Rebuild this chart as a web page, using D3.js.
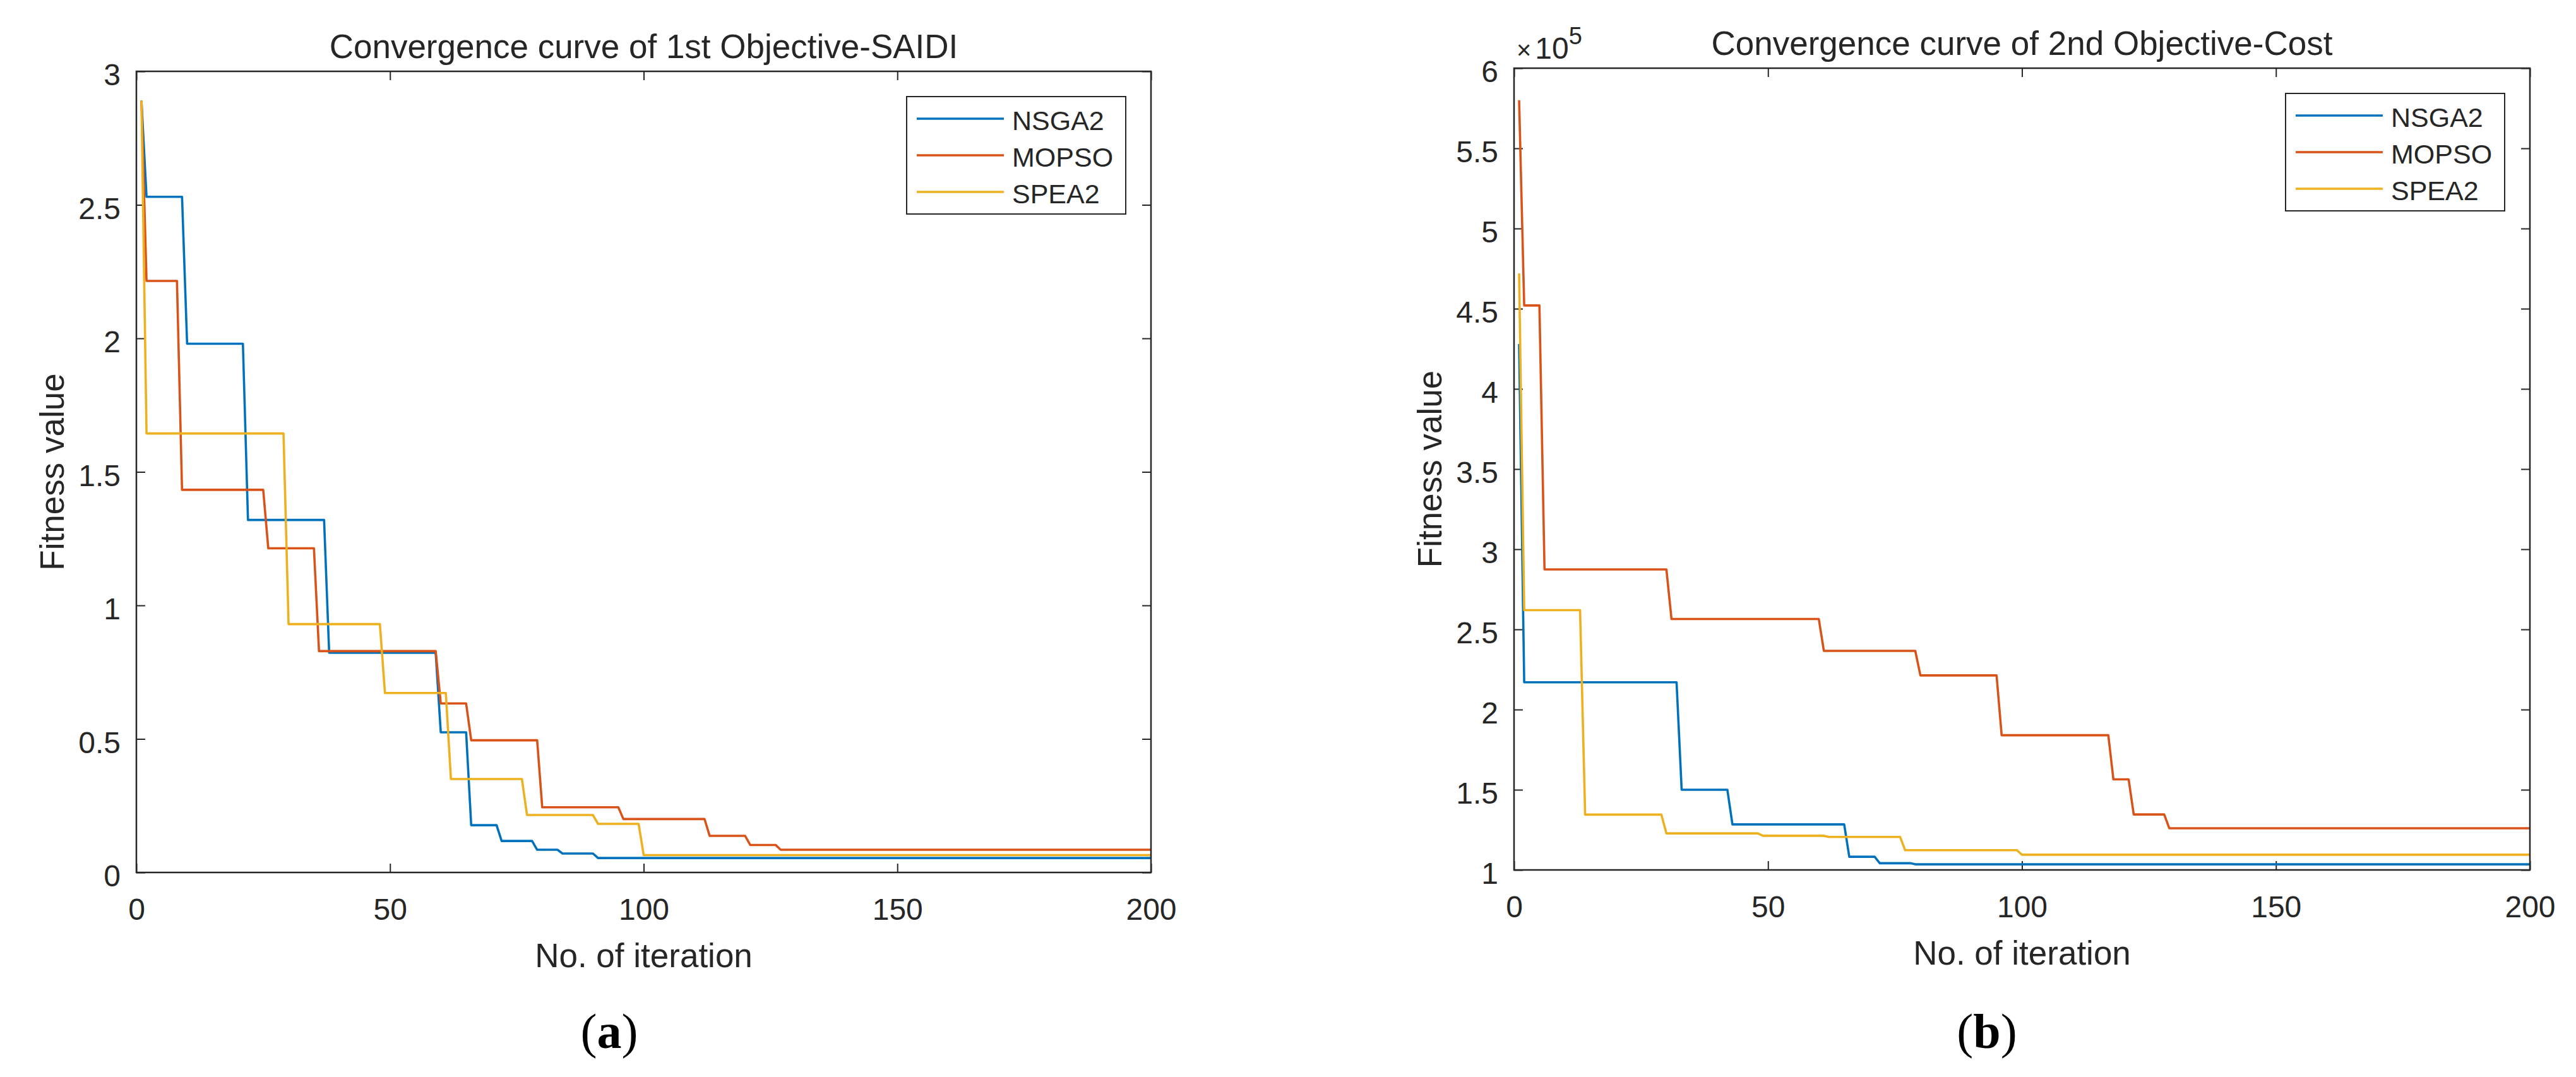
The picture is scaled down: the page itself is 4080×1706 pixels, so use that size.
<!DOCTYPE html>
<html>
<head>
<meta charset="utf-8">
<script src="https://cdn.jsdelivr.net/npm/d3@7"></script>
<style>
  html, body { margin: 0; padding: 0; background: #fff; }
  svg { display: block; }
  text { font-family: 'Liberation Sans', Arial, Helvetica, sans-serif; fill: #262626; }
</style>
</head>
<body>
<svg id="chart" width="4080" height="1706"></svg>
<script>
const seriesNames = ['NSGA2', 'MOPSO', 'SPEA2'];
const seriesColors = ['#0072BD', '#D95319', '#EDB120'];

const iterTicks = [0, 50, 100, 150, 200];
const lastIteration = 200;

// (a) SAIDI - iteration at which each new best value starts, and the value
const saidiNsga2Iter = [1, 2, 10, 22, 38, 60, 66, 72, 79, 84, 91];
const saidiNsga2Val = [2.89, 2.53, 1.98, 1.32, 0.823, 0.525, 0.177, 0.118, 0.085, 0.071, 0.054];
const saidiMopsoIter = [1, 2, 9, 26, 36, 60, 66, 80, 96, 113, 121, 127];
const saidiMopsoVal = [2.89, 2.215, 1.433, 1.214, 0.829, 0.633, 0.495, 0.244, 0.2, 0.137, 0.103, 0.085];
const saidiSpea2Iter = [1, 2, 30, 49, 62, 77, 91, 100];
const saidiSpea2Val = [2.89, 1.644, 0.93, 0.672, 0.35, 0.215, 0.182, 0.065];
const saidiTicks = [0, 0.5, 1, 1.5, 2, 2.5, 3];

// (b) Cost
const costNsga2Iter = [1, 2, 33, 43, 66, 72, 79];
const costNsga2Val = [428000, 217000, 150000, 128400, 108200, 104200, 103500];
const costMopsoIter = [1, 2, 6, 31, 61, 80, 96, 118, 122, 129];
const costMopsoVal = [580000, 452000, 287400, 256500, 236600, 221300, 184000, 156500, 134600, 126000];
const costSpea2Iter = [1, 2, 14, 30, 49, 62, 77, 100];
const costSpea2Val = [472000, 262000, 134500, 122800, 121300, 120600, 112300, 109500];
const costTicks = [100000, 150000, 200000, 250000, 300000, 350000, 400000, 450000, 500000, 550000, 600000];

function stepPoints(iters, vals) {
  let pts = [];
  for (let i = 0; i < iters.length; i++) {
    pts.push([iters[i], vals[i]]);
    let end = i + 1 < iters.length ? iters[i + 1] - 1 : lastIteration;
    if (end > iters[i]) pts.push([end, vals[i]]);
  }
  return pts;
}

const panels = [
  {
    id: 'a', left: 216, right: 1823, top: 113, bottom: 1382,
    yDomain: [0, 3], yTicks: saidiTicks, yFormat: d => d,
    series: [[saidiNsga2Iter, saidiNsga2Val], [saidiMopsoIter, saidiMopsoVal], [saidiSpea2Iter, saidiSpea2Val]],
    title: 'Convergence curve of 1st Objective-SAIDI', tagX: 965, exponent: null
  },
  {
    id: 'b', left: 2398, right: 4007, top: 108, bottom: 1378,
    yDomain: [100000, 600000], yTicks: costTicks, yFormat: d => +(d / 1e5).toFixed(1),
    series: [[costNsga2Iter, costNsga2Val], [costMopsoIter, costMopsoVal], [costSpea2Iter, costSpea2Val]],
    title: 'Convergence curve of 2nd Objective-Cost', tagX: 3147, exponent: 5
  }
];

const svg = d3.select('#chart');
const axisColor = '#262626';

panels.forEach(p => {
  let x = d3.scaleLinear().domain([0, lastIteration]).range([p.left, p.right]);
  let y = d3.scaleLinear().domain(p.yDomain).range([p.bottom, p.top]);
  let g = svg.append('g');

  g.append('clipPath')
    .attr('id', 'clip-' + p.id)
    .append('rect')
    .attr('x', p.left)
    .attr('y', p.top)
    .attr('width', p.right - p.left)
    .attr('height', p.bottom - p.top);

  // axes with inward ticks on all four sides
  let bottomAxis = g.append('g')
    .attr('transform', 'translate(0,' + p.bottom + ')')
    .call(d3.axisBottom(x).tickValues(iterTicks).tickSizeInner(-14).tickSizeOuter(0).tickPadding(41));
  let topAxis = g.append('g')
    .attr('transform', 'translate(0,' + p.top + ')')
    .call(d3.axisTop(x).tickValues(iterTicks).tickSizeInner(-14).tickSizeOuter(0).tickFormat(''));
  let leftAxis = g.append('g')
    .attr('transform', 'translate(' + p.left + ',0)')
    .call(d3.axisLeft(y).tickValues(p.yTicks).tickSizeInner(-14).tickSizeOuter(0).tickPadding(25).tickFormat(p.yFormat));
  let rightAxis = g.append('g')
    .attr('transform', 'translate(' + p.right + ',0)')
    .call(d3.axisRight(y).tickValues(p.yTicks).tickSizeInner(-14).tickSizeOuter(0).tickFormat(''));

  [bottomAxis, topAxis, leftAxis, rightAxis].forEach(a => {
    a.select('.domain').remove();
    a.selectAll('.tick line').attr('stroke', axisColor).attr('stroke-width', 2);
    a.selectAll('.tick text')
      .attr('font-size', 48)
      .attr('fill', axisColor)
      .attr('font-family', "'Liberation Sans', Arial, sans-serif");
  });
  leftAxis.selectAll('.tick text').attr('dy', '0.45em');

  let line = d3.line()
    .x(d => x(d[0]))
    .y(d => y(d[1]));

  g.append('g')
    .attr('clip-path', 'url(#clip-' + p.id + ')')
    .selectAll('path')
    .data(p.series)
    .enter()
    .append('path')
    .attr('fill', 'none')
    .attr('stroke', (d, i) => seriesColors[i])
    .attr('stroke-width', 3.6)
    .attr('stroke-linejoin', 'round')
    .attr('d', d => line(stepPoints(d[0], d[1])));

  g.append('rect')
    .attr('x', p.left)
    .attr('y', p.top)
    .attr('width', p.right - p.left)
    .attr('height', p.bottom - p.top)
    .attr('fill', 'none')
    .attr('stroke', axisColor)
    .attr('stroke-width', 2.5);

  let cx = (p.left + p.right) / 2;
  g.append('text')
    .attr('x', cx)
    .attr('y', p.top - 21)
    .attr('text-anchor', 'middle')
    .attr('font-size', 53)
    .attr('fill', '#111')
    .text(p.title);

  g.append('text')
    .attr('x', cx)
    .attr('y', p.bottom + 150)
    .attr('text-anchor', 'middle')
    .attr('font-size', 53)
    .text('No. of iteration');

  g.append('text')
    .attr('transform', 'translate(' + (p.left - 115) + ',' + (p.top + p.bottom) / 2 + ') rotate(-90)')
    .attr('text-anchor', 'middle')
    .attr('font-size', 53)
    .text('Fitness value');

  if (p.exponent) {
    let ex = g.append('text')
      .attr('x', p.left + 4)
      .attr('y', p.top - 15);
    ex.append('tspan').attr('font-size', 40).text('\u00d7');
    ex.append('tspan').attr('font-size', 48).attr('dx', 6).text('10');
    ex.append('tspan').attr('font-size', 38).attr('dy', -23).text(p.exponent);
  }

  // legend
  let lg = g.append('g')
    .attr('transform', 'translate(' + (p.right - 40 - 347) + ',' + (p.top + 40) + ')');
  lg.append('rect')
    .attr('width', 347)
    .attr('height', 186)
    .attr('fill', '#fff')
    .attr('stroke', axisColor)
    .attr('stroke-width', 2);
  seriesNames.forEach((name, i) => {
    let ly = 35 + i * 58;
    lg.append('line')
      .attr('x1', 16)
      .attr('x2', 154)
      .attr('y1', ly)
      .attr('y2', ly)
      .attr('stroke', seriesColors[i])
      .attr('stroke-width', 3.6);
    lg.append('text')
      .attr('x', 167)
      .attr('y', ly + 18)
      .attr('font-size', 43)
      .attr('fill', '#111')
      .text(name);
  });

  let tag = svg.append('text')
    .attr('x', p.tagX)
    .attr('y', 1660)
    .attr('text-anchor', 'middle')
    .attr('font-size', 78)
    .style('font-family', "'Liberation Serif', 'Times New Roman', serif")
    .style('fill', '#000');
  tag.append('tspan').text('(');
  tag.append('tspan').attr('font-weight', 'bold').text(p.id);
  tag.append('tspan').text(')');
});
</script>
</body>
</html>
